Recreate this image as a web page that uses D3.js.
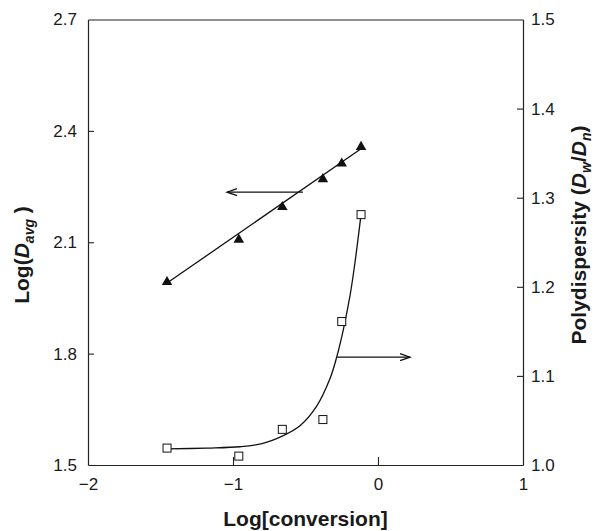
<!DOCTYPE html>
<html><head><meta charset="utf-8">
<script src="https://cdn.jsdelivr.net/npm/d3@7"></script>
<style>
body{margin:0;background:#fff}
svg{display:block}
text{font-family:"Liberation Sans",Arial,Helvetica,sans-serif;fill:#1a1a1a}
</style>
</head><body>
<svg id="c" width="597" height="531"></svg>
<script>
// ---- data ----
const logConversion = [-1.455, -0.96, -0.66, -0.38, -0.25, -0.117];
const logDavg       = [1.993, 2.107, 2.195, 2.270, 2.312, 2.357];
const polydispersity = [1.019, 1.010, 1.040, 1.051, 1.161, 1.281];
// fitted straight line (left axis)
const lineFitX = [-1.455, -0.117];
const lineFitY = [1.990, 2.352];
// fitted curve (right axis)
const curveFitX = [-1.455, -1.181, -0.952, -0.80, -0.653, -0.538, -0.423, -0.331, -0.285, -0.239, -0.193, -0.159, -0.117];
const curveFitY = [1.018, 1.019, 1.0205, 1.024, 1.033, 1.044, 1.066, 1.097, 1.121, 1.152, 1.190, 1.227, 1.281];
// arrows: [x0, x1, y]
const arrowLeft  = [-0.517, -1.041, 2.235];
const arrowRight = [-0.285, 0.221, 1.121];
const xTicks = [-2, -1, 0, 1];
const leftTicks = [1.5, 1.8, 2.1, 2.4, 2.7];
const rightTicks = [1.0, 1.1, 1.2, 1.3, 1.4, 1.5];

const svg = d3.select("#c");
const L = 88, R = 523, T = 19.5, B = 465;
const x = d3.scaleLinear().domain([-2, 1]).range([L, R]);
const yL = d3.scaleLinear().domain([1.5, 2.7]).range([B, T]);
const yR = d3.scaleLinear().domain([1.0, 1.5]).range([B, T]);

const axisColor = "#222";
const gx = svg.append("g").attr("transform", `translate(0,${B})`)
  .call(d3.axisBottom(x).tickValues(xTicks).tickSizeInner(-8).tickSizeOuter(0).tickPadding(13).tickFormat(d3.format("d")));
const gl = svg.append("g").attr("transform", `translate(${L},0)`)
  .call(d3.axisLeft(yL).tickValues(leftTicks).tickSizeInner(-6).tickSizeOuter(0).tickPadding(11).tickFormat(d3.format(".1f")));
const gr = svg.append("g").attr("transform", `translate(${R},0)`)
  .call(d3.axisRight(yR).tickValues(rightTicks).tickSizeInner(-6).tickSizeOuter(0).tickPadding(8).tickFormat(d3.format(".1f")));
const gt = svg.append("g").attr("transform", `translate(0,${T})`)
  .call(d3.axisTop(x).tickValues([]).tickSizeOuter(0));
[gx, gl, gr, gt].forEach(g => {
  g.selectAll("path.domain").attr("stroke", axisColor).attr("stroke-width", 1.2);
  g.selectAll(".tick line").attr("stroke", axisColor).attr("stroke-width", 1.1);
  g.selectAll(".tick text").attr("font-size", 17).attr("fill", "#1a1a1a")
    .attr("font-family", '"Liberation Sans",Arial,sans-serif');
});
gx.selectAll(".tick").filter(d => d === -2 || d === 1).select("line").remove();
gl.selectAll(".tick").filter(d => d === 1.5 || d === 2.7).select("line").remove();
gr.selectAll(".tick").filter(d => d === 1.0 || d === 1.5).select("line").remove();

// fitted straight line
svg.append("path")
  .attr("d", d3.line().x(d => x(d[0])).y(d => yL(d[1]))(d3.zip(lineFitX, lineFitY)))
  .attr("fill", "none").attr("stroke", "#111").attr("stroke-width", 1.3);

// fitted curve
svg.append("path")
  .attr("d", d3.line().curve(d3.curveCatmullRom).x(d => x(d[0])).y(d => yR(d[1]))(d3.zip(curveFitX, curveFitY)))
  .attr("fill", "none").attr("stroke", "#111").attr("stroke-width", 1.3);

// arrows
function arrow(a, ys) {
  const x0 = x(a[0]), x1 = x(a[1]), yy = ys(a[2]);
  svg.append("line").attr("x1", x0).attr("x2", x1).attr("y1", yy).attr("y2", yy)
    .attr("stroke", "#111").attr("stroke-width", 1.3);
  const dir = x1 > x0 ? -1 : 1;
  svg.append("path")
    .attr("d", `M${x1 + dir * 10},${yy - 3.5}L${x1},${yy}L${x1 + dir * 10},${yy + 3.5}`)
    .attr("fill", "none").attr("stroke", "#111").attr("stroke-width", 1.3);
}
arrow(arrowLeft, yL);
arrow(arrowRight, yR);

// triangles
svg.append("g").selectAll("path").data(d3.zip(logConversion, logDavg)).join("path")
  .attr("transform", d => `translate(${x(d[0])},${yL(d[1])})`)
  .attr("d", d3.symbol().type(d3.symbolTriangle).size(48))
  .attr("fill", "#111");

// squares
svg.append("g").selectAll("rect").data(d3.zip(logConversion, polydispersity)).join("rect")
  .attr("x", d => x(d[0]) - 4).attr("y", d => yR(d[1]) - 4)
  .attr("width", 8).attr("height", 8)
  .attr("fill", "#fff").attr("stroke", "#111").attr("stroke-width", 1);

// axis titles
svg.append("text").attr("x", (L + R) / 2).attr("y", 526).attr("text-anchor", "middle")
  .attr("font-size", 21).attr("font-weight", "bold").text("Log[conversion]");

const lt = svg.append("text").attr("transform", `translate(29,255) rotate(-90)`)
  .attr("text-anchor", "middle").attr("font-size", 21).attr("font-weight", "bold");
lt.append("tspan").text("Log(");
lt.append("tspan").attr("font-style", "italic").text("D");
lt.append("tspan").attr("font-style", "italic").attr("font-size", 14).attr("dy", 5).text("avg");
lt.append("tspan").attr("dy", -5).text(" )");

const rt = svg.append("text").attr("transform", `translate(586,235) rotate(-90)`)
  .attr("text-anchor", "middle").attr("font-size", 21).attr("font-weight", "bold");
rt.append("tspan").text("Polydispersity (");
rt.append("tspan").attr("font-style", "italic").text("D");
rt.append("tspan").attr("font-style", "italic").attr("font-size", 14).attr("dy", 5).text("w");
rt.append("tspan").attr("dy", -5).text("/");
rt.append("tspan").attr("font-style", "italic").text("D");
rt.append("tspan").attr("font-style", "italic").attr("font-size", 14).attr("dy", 5).text("n");
rt.append("tspan").attr("dy", -5).text(")");
</script>
</body></html>
